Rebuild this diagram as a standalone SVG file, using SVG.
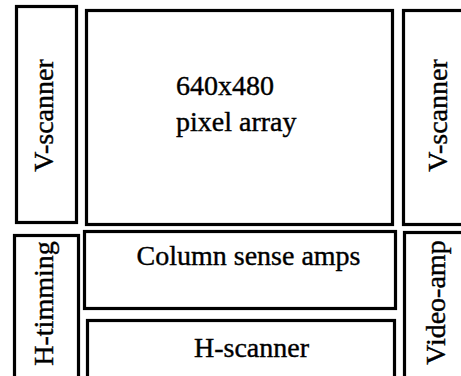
<svg xmlns="http://www.w3.org/2000/svg" width="461" height="376" viewBox="0 0 461 376">
<style>
.box{fill:#fff;stroke:#000;stroke-width:3.2}
.t{font-family:"Liberation Serif","Times New Roman",serif;font-size:28px;fill:#000;stroke:#000;stroke-width:0.4}
</style>
<rect x="0" y="0" width="461" height="376" fill="#fff"/>
<g id="v-scanner-left"><rect class="box" x="16.5" y="6.5" width="60" height="216"/><text class="t" transform="translate(53,115.5) rotate(-90)" text-anchor="middle">V-scanner</text></g>
<g id="pixel-array"><rect class="box" x="86.5" y="10.5" width="306" height="214"/><text class="t" x="176" y="95">640x480</text><text class="t" x="176" y="131">pixel array</text></g>
<g id="v-scanner-right"><rect class="box" x="403.5" y="10.5" width="70" height="214"/><text class="t" transform="translate(447,115.5) rotate(-90)" text-anchor="middle">V-scanner</text></g>
<g id="h-timming"><rect class="box" x="14.5" y="235.5" width="64" height="150"/><text class="t" transform="translate(53,303.5) rotate(-90)" text-anchor="middle">H-timming</text></g>
<g id="column-sense-amps"><rect class="box" x="84.5" y="231.5" width="311" height="77"/><text class="t" x="248.5" y="265" text-anchor="middle">Column sense amps</text></g>
<g id="h-scanner"><rect class="box" x="87.5" y="320.5" width="307" height="70"/><text class="t" x="251.5" y="357" text-anchor="middle">H-scanner</text></g>
<g id="video-amp"><rect class="box" x="404.5" y="232.5" width="70" height="160"/><text class="t" transform="translate(445,302.5) rotate(-90)" text-anchor="middle">Video-amp</text></g>
<g id="connectors"></g>
</svg>
